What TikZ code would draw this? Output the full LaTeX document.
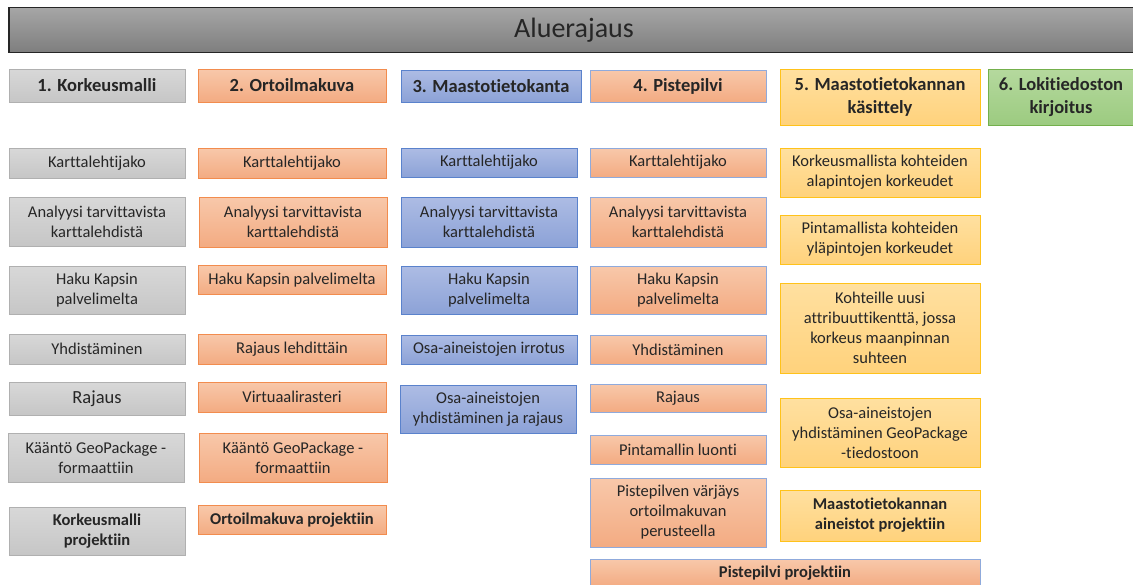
\documentclass[tikz,border=0pt]{standalone}
\usepackage{fontspec}
\setmainfont{Carlito}[Ligatures=NoCommon]
\usepackage{tikz}
\usepackage{xcolor}

\definecolor{greyTop}{HTML}{D8D8D8}
\definecolor{greyBot}{HTML}{C6C6C6}
\definecolor{greyLine}{HTML}{B0B0B0}
\definecolor{orTop}{HTML}{F8C8AA}
\definecolor{orBot}{HTML}{F3AB82}
\definecolor{orLine}{HTML}{F28C4E}
\definecolor{blTop}{HTML}{ADBCE4}
\definecolor{blBot}{HTML}{8CA2D7}
\definecolor{blLine}{HTML}{5A82CC}
\definecolor{blSoft}{HTML}{8FAADC}
\definecolor{yeTop}{HTML}{FFE0A0}
\definecolor{yeBot}{HTML}{FFD27C}
\definecolor{yeLine}{HTML}{FFC21A}
\definecolor{grTop}{HTML}{B5D99E}
\definecolor{grBot}{HTML}{9CCB80}
\definecolor{grLine}{HTML}{74B04C}
\definecolor{tiTop}{HTML}{A6A6A6}
\definecolor{tiBot}{HTML}{7E7E7E}

\begin{document}
\begin{tikzpicture}[x=1pt, y=-1pt,
    box/.style={rectangle, line width=1pt, inner sep=1pt, align=center, text=black!85, font=\fontsize{16.5}{20}\selectfont},
    head/.style={box, font=\fontsize{18.5}{23}\selectfont\bfseries},
    bold/.style={font=\fontsize{16.5}{20}\selectfont\bfseries},
    grey/.style={draw=greyLine, top color=greyTop, bottom color=greyBot},
    orange/.style={draw=orLine, top color=orTop, bottom color=orBot},
    orangeb/.style={draw=blSoft, top color=orTop, bottom color=orBot},
    blue/.style={draw=blLine, top color=blTop, bottom color=blBot},
    yellow/.style={draw=yeLine, top color=yeTop, bottom color=yeBot},
    green/.style={draw=grLine, top color=grTop, bottom color=grBot},
    c1/.style={minimum width=176pt},
    c2/.style={minimum width=188pt},
    c3/.style={minimum width=176pt},
    c4/.style={minimum width=176pt},
    c5/.style={minimum width=200pt}
]
\useasboundingbox (0,0) rectangle (1133,584);

% otsikko
\node[rectangle, draw=black!85, line width=1.2pt, top color=tiTop, bottom color=tiBot,
      minimum width=1130pt, minimum height=45pt, font=\fontsize{28}{32}\selectfont, text=black!85]
      (title) at (574,30) {Aluerajaus};

% 1. Korkeusmalli
\node[head, grey, c1, minimum height=33pt] (k0) at (97,85.5)  {1. Korkeusmalli};
\node[box, grey, c1, minimum height=30pt]  (k1) at (97,163)   {Karttalehtijako};
\node[box, grey, c1, minimum height=49pt]  (k2) at (97,221.5) {Analyysi tarvittavista\\karttalehdistä};
\node[box, grey, c1, minimum height=48pt]  (k3) at (97,290)   {Haku Kapsin\\palvelimelta};
\node[box, grey, c1, minimum height=30pt]  (k4) at (97,349)   {Yhdistäminen};
\node[box, grey, c1, minimum height=33pt, font=\fontsize{18.5}{22}\selectfont] (k5) at (97,398.5) {Rajaus};
\node[box, grey, c1, minimum height=49pt]  (k6) at (96,457.5) {Kääntö GeoPackage -\\formaattiin};
\node[box, bold, grey, c1, minimum height=48pt] (k7) at (97,531) {Korkeusmalli\\projektiin};

% 2. Ortoilmakuva
\node[head, orange, c2, minimum height=33pt] (o0) at (292,85.5) {2. Ortoilmakuva};
\node[box, orange, c2, minimum height=30pt]  (o1) at (292,163)  {Karttalehtijako};
\node[box, orange, c2, minimum height=50pt]  (o2) at (293,222)  {Analyysi tarvittavista\\karttalehdistä};
\node[box, orange, c2, minimum height=29pt]  (o3) at (292,280)  {Haku Kapsin palvelimelta};
\node[box, orange, c2, minimum height=30pt]  (o4) at (292,349)  {Rajaus lehdittäin};
\node[box, orange, c2, minimum height=30pt]  (o5) at (292,397)  {Virtuaalirasteri};
\node[box, orange, c2, minimum height=49pt]  (o6) at (293,457.5) {Kääntö GeoPackage -\\formaattiin};
\node[box, bold, orange, c2, minimum height=29pt] (o7) at (292,520) {Ortoilmakuva projektiin};

% 3. Maastotietokanta
\node[head, blue, minimum width=180pt, minimum height=32pt] (m0) at (491,86) {3. Maastotietokanta};
\node[box, blue, c3, minimum height=29pt]  (m1) at (489,162.5) {Karttalehtijako};
\node[box, blue, c3, minimum height=50pt]  (m2) at (489,222)   {Analyysi tarvittavista\\karttalehdistä};
\node[box, blue, c3, minimum height=48pt]  (m3) at (489,290)   {Haku Kapsin\\palvelimelta};
\node[box, blue, c3, minimum height=29pt]  (m4) at (489,349.5) {Osa-aineistojen irrotus};
\node[box, blue, c3, minimum height=48pt]  (m5) at (488,409)   {Osa-aineistojen\\yhdistäminen ja rajaus};

% 4. Pistepilvi
\node[head, orangeb, c4, minimum height=32pt] (p0) at (678,86)  {4. Pistepilvi};
\node[box, orangeb, c4, minimum height=29pt]  (p1) at (678,162.5) {Karttalehtijako};
\node[box, orangeb, c4, minimum height=50pt]  (p2) at (678,222)   {Analyysi tarvittavista\\karttalehdistä};
\node[box, orangeb, c4, minimum height=48pt]  (p3) at (678,290)   {Haku Kapsin\\palvelimelta};
\node[box, orangeb, c4, minimum height=29pt]  (p4) at (678,349.5) {Yhdistäminen};
\node[box, orangeb, c4, minimum height=28pt]  (p5) at (678,398)   {Rajaus};
\node[box, orangeb, c4, minimum height=29pt]  (p6) at (678,449.5) {Pintamallin luonti};
\node[box, orangeb, c4, minimum height=69pt]  (p7) at (678,512.5) {Pistepilven värjäys\\ortoilmakuvan\\perusteella};
\node[box, bold, orangeb, minimum width=390pt, minimum height=28pt] (p8) at (785,573) {Pistepilvi projektiin};

% 5. Maastotietokannan käsittely
\node[head, yellow, c5, minimum height=56pt] (t0) at (880,97)    {5. Maastotietokannan\\käsittely};
\node[box, yellow, c5, minimum height=49pt]  (t1) at (880,172.5) {Korkeusmallista kohteiden\\alapintojen korkeudet};
\node[box, yellow, c5, minimum height=49pt]  (t2) at (880,239.5) {Pintamallista kohteiden\\yläpintojen korkeudet};
\node[box, yellow, c5, minimum height=90pt]  (t3) at (880,328)   {Kohteille uusi\\attribuuttikenttä, jossa\\korkeus maanpinnan\\suhteen};
\node[box, yellow, c5, minimum height=69pt]  (t4) at (880,432.5) {Osa-aineistojen\\yhdistäminen GeoPackage\\-tiedostoon};
\node[box, bold, yellow, c5, minimum height=51pt] (t5) at (880,515.5) {Maastotietokannan\\aineistot projektiin};

% 6. Lokitiedoston kirjoitus
\node[head, green, minimum width=146pt, minimum height=56pt] (l0) at (1061,97) {6. Lokitiedoston\\kirjoitus};
\end{tikzpicture}
\end{document}
